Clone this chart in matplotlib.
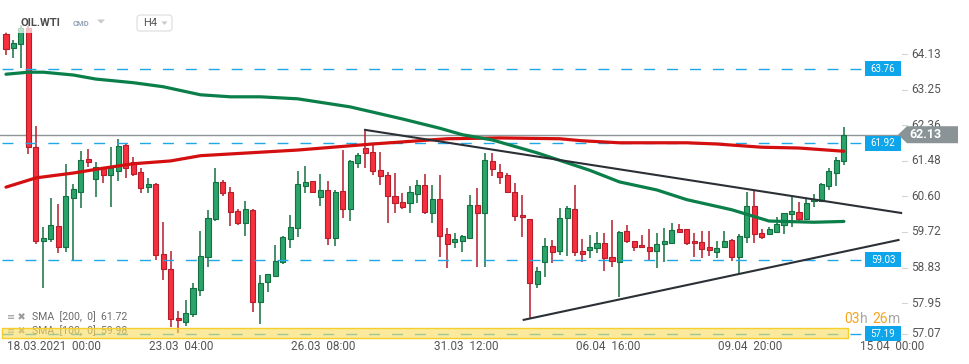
# OIL.WTI H4 candles with SMA 100/200, levels and a triangle
import matplotlib.pyplot as plt
from matplotlib.patches import Rectangle, Polygon, FancyBboxPatch
from matplotlib.lines import Line2D
from matplotlib.transforms import Affine2D, blended_transform_factory

plt.rcParams['font.family'] = ['Roboto', 'DejaVu Sans']
plt.rcParams['lines.scale_dashes'] = False

# candle data (H4 bars from 18.03.2021 00:00)
opens = [64.63, 64.28, 64.38, 64.78, 61.82, 59.49, 59.54, 59.87, 59.34, 60.56,
         60.71, 61.53, 61.04, 61.33, 61.13, 61.23, 61.87, 61.45, 61.20, 60.83,
         60.91, 59.18, 58.80, 57.58, 57.49, 57.68, 58.28, 59.10, 60.04, 60.96,
         60.71, 60.24, 59.94, 60.27, 57.99, 58.48, 58.63, 58.97, 59.54, 59.82,
         60.86, 60.99, 60.58, 60.76, 59.57, 60.73, 60.29, 61.43, 61.80, 61.70,
         61.25, 61.13, 60.61, 60.47, 60.44, 60.66, 60.89, 60.19, 60.53, 59.67,
         59.47, 59.49, 59.57, 60.39, 60.19, 61.48, 61.20, 61.13, 60.71, 60.14,
         60.04, 58.43, 58.97, 59.37, 59.25, 60.06, 60.29, 59.25, 59.28, 59.32,
         59.44, 59.10, 58.97, 59.75, 59.49, 59.39, 59.34, 59.25, 59.42, 59.44,
         59.80, 59.80, 59.49, 59.47, 59.34, 59.23, 59.34, 59.52, 59.10, 59.59,
         60.37, 59.70, 59.67, 59.72, 59.90, 60.16, 60.22, 60.04, 60.49, 60.49,
         60.86, 61.18, 61.48]
highs = [64.68, 64.48, 64.86, 64.83, 62.34, 59.85, 60.56, 60.42, 61.41, 60.91,
         61.72, 61.77, 61.45, 61.33, 61.82, 62.03, 61.90, 61.58, 61.30, 61.06,
         60.94, 59.96, 59.25, 57.76, 58.04, 58.45, 59.75, 60.27, 61.30, 61.01,
         60.84, 60.29, 60.49, 60.29, 58.66, 58.68, 59.39, 59.62, 60.14, 61.23,
         61.35, 60.99, 61.15, 60.99, 60.76, 61.75, 61.51, 61.68, 62.25, 61.87,
         61.70, 61.20, 61.18, 60.68, 60.86, 61.01, 61.15, 60.89, 61.14, 59.82,
         59.70, 59.64, 60.63, 60.81, 61.68, 61.68, 61.41, 61.18, 60.94, 60.63,
         60.04, 58.85, 59.57, 59.52, 60.32, 60.37, 60.89, 59.54, 59.64, 59.72,
         59.70, 60.01, 59.75, 59.90, 59.49, 59.64, 59.80, 59.70, 59.82, 59.94,
         59.92, 59.80, 59.70, 59.75, 59.75, 59.49, 59.75, 59.54, 59.67, 60.71,
         60.73, 59.80, 59.85, 60.09, 60.19, 60.58, 60.47, 60.53, 60.66, 60.93,
         61.30, 61.58, 62.32]
lows = [64.10, 64.04, 63.79, 61.66, 59.42, 58.33, 59.47, 59.20, 59.23, 59.00,
        60.32, 61.33, 60.58, 60.94, 60.34, 60.99, 61.06, 61.10, 60.68, 60.68,
        59.02, 58.53, 57.37, 57.21, 57.39, 57.61, 58.13, 58.85, 59.99, 60.61,
        59.87, 59.90, 59.62, 57.73, 57.44, 58.23, 58.61, 58.92, 59.32, 59.59,
        60.68, 60.71, 60.37, 59.39, 59.37, 60.06, 59.99, 61.30, 61.30, 61.13,
        60.89, 59.94, 60.19, 60.29, 60.19, 60.44, 60.16, 59.94, 59.10, 58.82,
        59.32, 59.23, 59.54, 58.85, 58.85, 61.10, 60.91, 60.71, 59.99, 59.59,
        57.58, 58.33, 58.61, 58.95, 59.15, 59.13, 59.13, 58.97, 59.08, 59.20,
        58.75, 58.85, 58.11, 59.44, 59.25, 59.32, 59.02, 58.82, 58.97, 59.44,
        59.70, 59.39, 59.10, 59.08, 59.13, 59.08, 59.32, 59.00, 58.71, 59.44,
        59.44, 59.54, 59.64, 59.70, 59.67, 59.85, 59.94, 60.01, 60.34, 60.47,
        60.76, 60.86, 61.38]
closes = [64.26, 64.41, 64.78, 61.82, 59.49, 59.57, 59.90, 59.34, 60.61, 60.78,
          61.51, 61.45, 61.33, 61.13, 61.30, 61.85, 61.30, 61.15, 60.81, 60.91,
          59.15, 58.80, 57.56, 57.53, 57.71, 58.33, 59.13, 60.06, 60.96, 60.68,
          60.22, 59.94, 60.29, 57.99, 58.45, 58.68, 59.00, 59.59, 59.85, 60.91,
          60.96, 60.71, 60.76, 59.57, 60.71, 60.29, 61.48, 61.63, 61.68, 61.23,
          61.10, 60.61, 60.44, 60.34, 60.71, 60.89, 60.22, 60.53, 59.62, 59.42,
          59.54, 59.62, 60.39, 60.19, 61.51, 61.28, 61.09, 60.71, 60.11, 60.09,
          58.45, 58.75, 59.37, 59.23, 60.06, 60.32, 59.23, 59.18, 59.34, 59.44,
          59.08, 59.00, 59.72, 59.49, 59.34, 59.34, 59.25, 59.42, 59.49, 59.77,
          59.72, 59.44, 59.44, 59.30, 59.28, 59.32, 59.49, 59.10, 59.62, 60.37,
          59.67, 59.59, 59.80, 59.92, 60.19, 60.24, 60.04, 60.44, 60.53, 60.91,
          61.23, 61.51, 62.13]

# moving averages, read at some bars
sma100_bars = [0, 3, 5, 9, 12, 17, 21, 26, 30, 34, 39, 46, 53, 58, 61, 65,
               71, 78, 82, 87, 91, 97, 102, 108, 112]
sma100_vals = [63.63, 63.68, 63.68, 63.61, 63.51, 63.42, 63.32, 63.12, 63.07,
               63.07, 63.02, 62.82, 62.52, 62.29, 62.13, 62.00, 61.68, 61.25,
               60.96, 60.76, 60.52, 60.27, 59.99, 59.96, 59.98]
sma200_bars = [0, 4, 9, 13, 17, 22, 26, 39, 49, 59, 66, 74, 77, 82, 91, 95,
               101, 106, 112]
sma200_vals = [60.83, 61.06, 61.18, 61.30, 61.41, 61.48, 61.61, 61.75, 61.90,
               62.03, 62.05, 62.03, 61.98, 61.93, 61.93, 61.90, 61.82, 61.80,
               61.72]

# triangle lines
upper_bars = [48, 119.65]
upper_vals = [62.25, 60.19]
lower_bars = [69.2, 119.3]
lower_vals = [57.54, 59.52]

levels = [63.76, 61.92, 59.03, 57.19]
last_price = 62.13
ytick_vals = [64.13, 63.25, 62.36, 61.48, 60.60, 59.72, 58.83, 57.95, 57.07]
date_labels = ['18.03.2021  00:00', '23.03  04:00', '26.03  08:00', '31.03  12:00',
               '06.04  16:00', '09.04  20:00', '15.04  00:00']
date_bars = [0, 19, 38, 57, 76, 95, 114]

W, H = 970, 364
fig = plt.figure(figsize=(W / 100, H / 100), dpi=100)
# pixel coords measured from the top left of the picture
pix = Affine2D().scale(1 / W, -1 / H).translate(0, 1) + fig.transFigure

ax = fig.add_axes([0, 26 / H, 900 / W, 338 / H])
ax.set_xlim(-0.8, 119.5)
ax.set_ylim(57.09, 65.47)
ax.axis('off')
ydata = blended_transform_factory(pix, ax.transData)
xdata = blended_transform_factory(ax.transData, pix)

# candles
x = list(range(len(opens)))
up = [c >= o for o, c in zip(opens, closes)]
fills = ['#2ba36b' if u else '#f6303e' for u in up]
edges = ['#137040' if u else '#b51d2b' for u in up]
bottoms = [min(o, c) for o, c in zip(opens, closes)]
heights = [max(abs(c - o), 0.03) for o, c in zip(opens, closes)]
ax.vlines(x, lows, highs, colors=edges, lw=1.1, zorder=3)
ax.bar(x, heights, bottom=bottoms, width=0.68, color=fills, edgecolor=edges,
       lw=0.8, zorder=4)

# levels
for lv in levels:
    ax.plot([-0.55, 114.4], [lv, lv], color='#1fa8e8', lw=1.0,
            dashes=(7.9, 8.6), zorder=5)
ax.axhline(last_price, color='#8c9598', lw=1.0, zorder=2)

ax.plot(sma200_bars, sma200_vals, color='#d40f10', lw=2.3, zorder=6,
        solid_capstyle='round')
ax.plot(sma100_bars, sma100_vals, color='#0b7f4a', lw=2.3, zorder=6,
        solid_capstyle='round')
ax.plot(upper_bars, upper_vals, color='#2b2f36', lw=1.5, zorder=7, clip_on=False)
ax.plot(lower_bars, lower_vals, color='#2b2f36', lw=1.5, zorder=7, clip_on=False)

# level boxes
for lv in levels:
    y_px = 338 - (lv - 57.09) / (65.47 - 57.09) * 338
    fig.add_artist(Rectangle((865, y_px - 7.5), 36, 15, transform=pix,
                             fc='#0ea5ea', ec='none', zorder=11))
    fig.text(883, y_px, f'{lv:.2f}', transform=pix, ha='center', va='center',
             color='white', fontsize=7, zorder=12)

# right price scale
for v in ytick_vals:
    yv = max(v, 57.19)
    fig.add_artist(Line2D([902, 907], [yv, yv], transform=ydata,
                          color='#d5d5d5', lw=0.8))
    fig.text(911, yv, f'{v:.2f}', transform=ydata, ha='left', va='center',
             color='#555555', fontsize=8.5)

# last price tag
yp = 338 - (last_price - 57.09) / (65.47 - 57.09) * 338
fig.add_artist(Polygon([(898, yp), (907, yp - 8.5), (958, yp - 8.5),
                        (958, yp + 8.5), (907, yp + 8.5)], closed=True,
                       transform=pix, fc='#8a9396', ec='none', zorder=11))
fig.text(925, yp, f'{last_price:.2f}', transform=pix, ha='center', va='center',
         color='white', fontsize=9, fontweight='bold', zorder=12)

# date labels
for b, lab in zip(date_bars, date_labels):
    ax.text(b + 0.15, 347, lab, transform=xdata, ha='left', va='center',
            color='#555555', fontsize=8.5, clip_on=False)

# header
fig.add_artist(Rectangle((0, 0), 180, 33, transform=pix, fc='white',
                         alpha=0.7, ec='none', zorder=8))
fig.text(21, 23, 'OIL.WTI', transform=pix, va='center', ha='left',
         color='#4b4b4b', fontsize=8, fontweight='bold', zorder=9)
fig.text(73, 24, 'CMD', transform=pix, va='center', ha='left',
         color='#91a1b4', fontsize=5.5, fontweight='bold', zorder=9)
fig.add_artist(Polygon([(97, 19.5), (105, 19.5), (101, 23.5)], transform=pix,
                       fc='#c9c9c9', ec='none', zorder=9))
fig.add_artist(FancyBboxPatch((137, 15), 35, 16, transform=pix,
                              boxstyle='round,pad=0,rounding_size=3',
                              fc='white', ec='#dcdcdc', lw=0.8, zorder=9))
fig.text(143, 23, 'H4', transform=pix, va='center', ha='left',
         color='#555555', fontsize=8, zorder=10)
fig.add_artist(Polygon([(161.5, 21.5), (167.5, 21.5), (164.5, 25)],
                       transform=pix, fc='#c9c9c9', ec='none', zorder=10))

# indicator legend
fig.text(7, 317, '≡ ✖', transform=pix, va='center', ha='left',
         color='#9a9a9a', fontsize=7, zorder=9)
fig.text(32, 317, 'SMA  [200,  0]  61.72', transform=pix, va='center',
         ha='left', color='#6b6b6b', fontsize=7.6, zorder=9)
fig.text(7, 331, '≡ ✖', transform=pix, va='center', ha='left',
         color='#9a9a9a', fontsize=7, zorder=9)
fig.text(32, 331, 'SMA  [100,  0]  59.98', transform=pix, va='center',
         ha='left', color='#6b6b6b', fontsize=7.6, zorder=9)

# selected level band
fig.add_artist(Rectangle((2, 328), 846, 10, transform=pix,
                         fc=(0.976, 0.863, 0.36, 0.6), ec='#f5cd2c', lw=1.0,
                         zorder=10))

# bar countdown
for px_x, txt, col in [(844, '03', '#f6a41c'), (860, 'h', '#a8a8a8'),
                       (872, '26', '#f6a41c'), (888, 'm', '#a8a8a8')]:
    fig.text(px_x, 319, txt, transform=pix, va='center', ha='left',
             color=col, fontsize=10, zorder=12)

fig.savefig('out.png', dpi=100)
